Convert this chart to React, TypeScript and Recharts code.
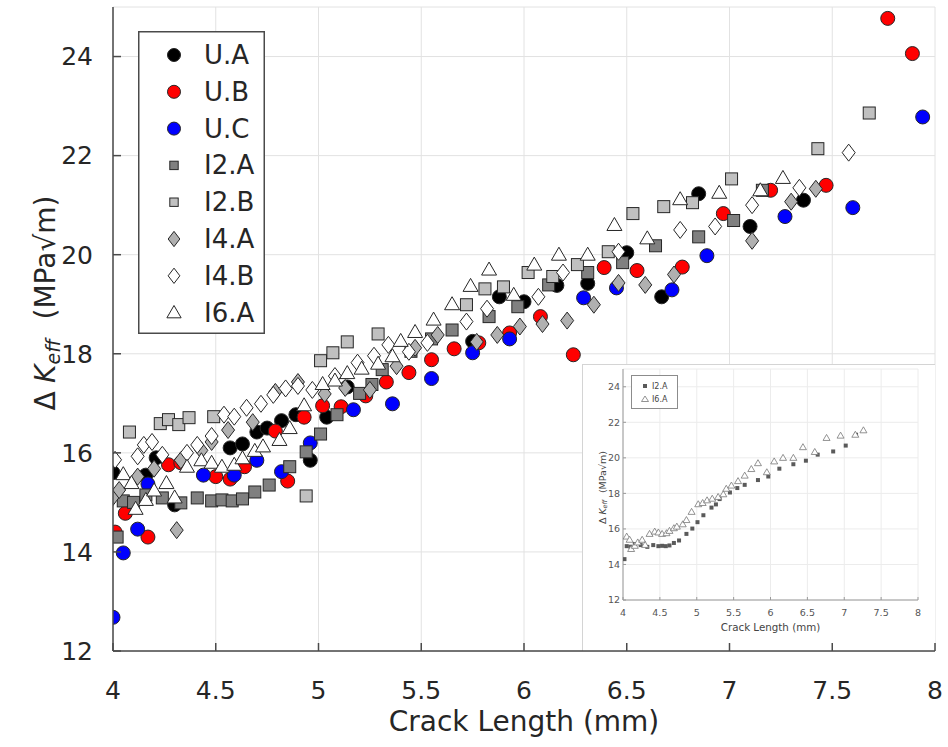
import React from "react";
import { ScatterChart, Scatter, XAxis, YAxis, CartesianGrid, Legend } from "recharts";

const X_TICKS = [4, 4.5, 5, 5.5, 6, 6.5, 7, 7.5, 8];
const Y_TICKS = [12, 14, 16, 18, 20, 22, 24];

// [crack length (mm), delta K eff (MPa sqrt m)]
const UA = [
  [4.0, 15.6], [4.16, 15.55], [4.21, 15.9], [4.3, 14.95], [4.57, 16.1], [4.63, 16.18],
  [4.7, 16.42], [4.75, 16.5], [4.82, 16.65], [4.89, 16.77], [4.96, 15.85], [5.04, 16.72],
  [5.14, 17.33], [5.75, 18.25], [5.88, 19.15], [6.0, 19.05], [6.16, 19.38], [6.31, 19.42],
  [6.5, 20.04], [6.67, 19.15], [6.85, 21.23], [7.1, 20.57], [7.36, 21.1],
];
const UB = [
  [4.01, 14.4], [4.06, 14.78], [4.17, 14.3], [4.27, 15.76], [4.33, 15.8], [4.5, 15.52],
  [4.57, 15.47], [4.64, 15.72], [4.79, 16.44], [4.85, 15.43], [4.93, 16.72], [5.02, 16.95],
  [5.11, 16.93], [5.23, 17.15], [5.33, 17.43], [5.44, 17.62], [5.55, 17.88], [5.66, 18.1],
  [5.78, 18.22], [5.93, 18.42], [6.08, 18.75], [6.24, 17.98], [6.39, 19.74], [6.55, 19.68],
  [6.77, 19.75], [6.97, 20.83], [7.2, 21.3], [7.47, 21.4], [7.77, 24.77], [7.89, 24.06],
];
const UC = [
  [4.0, 12.68], [4.05, 13.98], [4.12, 14.46], [4.17, 15.37], [4.44, 15.55], [4.59, 15.55],
  [4.7, 15.85], [4.82, 15.62], [4.96, 16.2], [5.17, 16.87], [5.36, 16.99], [5.55, 17.5],
  [5.75, 18.02], [5.93, 18.3], [6.29, 19.13], [6.45, 19.33], [6.72, 19.29], [6.89, 19.98],
  [7.27, 20.77], [7.6, 20.95], [7.94, 22.78],
];
const I2A = [
  [4.02, 14.3], [4.05, 15.03], [4.1, 15.0], [4.16, 15.15], [4.24, 15.09], [4.33, 14.99],
  [4.41, 15.09], [4.48, 15.03], [4.53, 15.05], [4.58, 15.03], [4.63, 15.07], [4.69, 15.21],
  [4.76, 15.35], [4.86, 15.72], [4.94, 16.02], [5.01, 16.38], [5.09, 16.77], [5.2, 17.2],
  [5.26, 17.38], [5.31, 17.68], [5.45, 18.05], [5.55, 18.3], [5.65, 18.48], [5.83, 18.75],
  [5.97, 18.95], [6.12, 19.39], [6.31, 19.64], [6.48, 19.84], [6.64, 20.18], [6.85, 20.36],
  [7.02, 20.69], [7.16, 21.3],
];
const I2B = [
  [4.08, 16.42], [4.23, 16.59], [4.27, 16.67], [4.32, 16.57], [4.37, 16.71], [4.49, 16.73],
  [4.94, 15.13], [5.01, 17.86], [5.07, 18.02], [5.14, 18.24], [5.29, 18.4], [5.72, 18.99],
  [5.81, 19.31], [5.9, 19.35], [6.02, 19.64], [6.14, 19.56], [6.26, 19.8], [6.41, 20.06],
  [6.53, 20.83], [6.68, 20.97], [6.82, 21.05], [7.01, 21.53], [7.43, 22.14], [7.68, 22.86],
];
const I4A = [
  [4.0, 15.11], [4.03, 15.25], [4.12, 15.52], [4.2, 15.68], [4.31, 14.44], [4.33, 15.85],
  [4.43, 16.05], [4.48, 16.22], [4.56, 16.46], [4.68, 16.62], [4.79, 17.23], [4.9, 17.43],
  [5.03, 17.19], [5.13, 17.31], [5.25, 17.27], [5.38, 17.75], [5.47, 18.12], [5.58, 18.38],
  [5.77, 18.24], [5.87, 18.38], [5.98, 18.55], [6.09, 18.6], [6.21, 18.67], [6.34, 18.99],
  [6.46, 19.43], [6.59, 19.39], [6.73, 19.6], [7.11, 20.28], [7.3, 21.07], [7.42, 21.33],
];
const I4B = [
  [4.01, 15.86], [4.12, 15.93], [4.15, 16.16], [4.19, 16.22], [4.24, 15.96], [4.36, 16.0],
  [4.41, 16.16], [4.48, 16.34], [4.54, 16.77], [4.59, 16.73], [4.65, 16.91], [4.72, 16.99],
  [4.78, 17.17], [4.84, 17.3], [4.9, 17.35], [4.97, 17.27], [5.08, 17.55], [5.19, 17.82],
  [5.27, 17.96], [5.34, 18.18], [5.44, 18.04], [5.53, 18.22], [5.72, 18.65], [5.82, 18.91],
  [6.07, 19.15], [6.19, 19.64], [6.46, 20.06], [6.76, 20.5], [6.93, 20.57], [7.11, 21.0],
  [7.34, 21.35], [7.58, 22.06],
];
const I6A = [
  [4.05, 15.57], [4.09, 15.39], [4.11, 14.87], [4.16, 15.05], [4.2, 15.24], [4.26, 15.39],
  [4.3, 15.1], [4.36, 15.72], [4.43, 15.85], [4.48, 15.8], [4.53, 15.72], [4.59, 15.76],
  [4.63, 15.89], [4.69, 16.04], [4.73, 16.13], [4.81, 16.26], [4.86, 16.5], [4.93, 16.96],
  [5.02, 17.39], [5.08, 17.46], [5.14, 17.61], [5.21, 17.7], [5.29, 17.8], [5.36, 17.95],
  [5.4, 18.26], [5.47, 18.44], [5.56, 18.69], [5.65, 19.0], [5.74, 19.37], [5.83, 19.7],
  [5.95, 19.19], [6.05, 19.8], [6.17, 20.0], [6.31, 20.0], [6.44, 20.6], [6.6, 20.33],
  [6.76, 21.12], [6.95, 21.25], [7.15, 21.3], [7.26, 21.55],
];

const FONT = "'DejaVu Sans', 'Liberation Sans', Arial, sans-serif";
const AXIS = "#4a4a4a";
const TXT = "#262626";

const pts = (arr: number[][]) => arr.map(([x, y]) => ({ x, y }));
const blank = () => "";

function Marker({ kind, cx, cy, fill, s = 1, stroke = "#262626", sw = 1 }: any) {
  if (kind === "circle")
    return <circle cx={cx} cy={cy} r={7 * s} fill={fill} stroke={stroke} strokeWidth={sw} />;
  if (kind === "square")
    return <rect x={cx - 6 * s} y={cy - 6 * s} width={12 * s} height={12 * s} fill={fill} stroke={stroke} strokeWidth={sw} />;
  if (kind === "diamond")
    return (
      <polygon
        points={`${cx},${cy - 8.5 * s} ${cx + 6.5 * s},${cy} ${cx},${cy + 8.5 * s} ${cx - 6.5 * s},${cy}`}
        fill={fill} stroke={stroke} strokeWidth={sw}
      />
    );
  return (
    <polygon
      points={`${cx},${cy - 7.5 * s} ${cx + 7.5 * s},${cy + 5.5 * s} ${cx - 7.5 * s},${cy + 5.5 * s}`}
      fill={fill} stroke={stroke} strokeWidth={sw}
    />
  );
}

const SERIES = [
  { name: "U.A", data: UA, kind: "circle", fill: "#000000", ls: 0.93 },
  { name: "U.B", data: UB, kind: "circle", fill: "#ff0000", ls: 0.93 },
  { name: "U.C", data: UC, kind: "circle", fill: "#0000ff", ls: 0.93 },
  { name: "I2.A", data: I2A, kind: "square", fill: "#808080", ls: 0.7 },
  { name: "I2.B", data: I2B, kind: "square", fill: "#c0c0c0", ls: 0.7 },
  { name: "I4.A", data: I4A, kind: "diamond", fill: "#b0b0b0", ls: 0.9 },
  { name: "I4.B", data: I4B, kind: "diamond", fill: "#ffffff", ls: 0.9 },
  { name: "I6.A", data: I6A, kind: "triangle", fill: "#ffffff", ls: 0.95 },
];

function MainLegend() {
  return (
    <svg width={127} height={303} style={{ display: "block" }}>
      <rect x={0.75} y={0.75} width={125.5} height={301.5} fill="#ffffff" stroke={AXIS} strokeWidth={1.5} />
      {SERIES.map((s, i) => {
        const cy = 24 + i * 36.8;
        return (
          <g key={s.name}>
            <Marker kind={s.kind} cx={36} cy={cy} fill={s.fill} s={s.ls} />
            <text x={66} y={cy} dominantBaseline="central" fontSize={26} fontFamily={FONT} fill={TXT}>
              {s.name}
            </text>
          </g>
        );
      })}
    </svg>
  );
}

function InsetLegend() {
  return (
    <svg width={47} height={34} style={{ display: "block" }}>
      <rect x={0.5} y={0.5} width={46} height={33} fill="#ffffff" stroke="#8c8c8c" strokeWidth={1} />
      <rect x={12} y={9} width={4} height={4} fill="#5a5a5a" />
      <text x={21} y={11.5} dominantBaseline="central" fontSize={8} fontFamily={FONT} fill="#444">I2.A</text>
      <polygon points="14,21 17.5,26.5 10.5,26.5" fill="#fff" stroke="#777" strokeWidth={0.8} />
      <text x={21} y={24.5} dominantBaseline="central" fontSize={8} fontFamily={FONT} fill="#444">I6.A</text>
    </svg>
  );
}

function YLabel({ viewBox, dx, dy, size, color }: any) {
  const cx = viewBox.x + dx;
  const cy = viewBox.y + viewBox.height / 2 + dy;
  return (
    <text
      x={cx} y={cy} transform={`rotate(-90, ${cx}, ${cy})`} textAnchor="middle"
      dominantBaseline="central" fontSize={size} fontFamily={FONT} fill={color}
    >
      <tspan>Δ</tspan>
      <tspan dx={size * 0.3} fontStyle="italic">K</tspan>
      <tspan fontSize={size * 0.68} dy={size * 0.3} fontStyle="italic">eff</tspan>
      <tspan dx={size * 0.7} dy={-size * 0.3}>(MPa√m)</tspan>
    </text>
  );
}

function XLabel({ viewBox, dy, size, color }: any) {
  return (
    <text
      x={viewBox.x + viewBox.width / 2} y={viewBox.y + dy} textAnchor="middle"
      fontSize={size} fontFamily={FONT} fill={color}
    >
      Crack Length (mm)
    </text>
  );
}

const MAIN_MARGIN = { top: 7, right: 13, bottom: 36, left: 0 };

function MainChart() {
  return (
    <ScatterChart width={948} height={747} margin={MAIN_MARGIN}>
      <CartesianGrid stroke="#e2e2e2" strokeWidth={1} />
      <XAxis
        type="number" dataKey="x" domain={[4, 8]} ticks={X_TICKS} allowDataOverflow height={60}
        axisLine={false} tickLine={false} tickMargin={24}
        tick={{ fontSize: 25, fill: TXT, fontFamily: FONT }}
        label={{ content: (p: any) => <XLabel {...p} dy={80} size={28} color={TXT} /> }}
      />
      <YAxis
        type="number" dataKey="y" domain={[12, 25]} ticks={Y_TICKS} allowDataOverflow width={113}
        axisLine={false} tickLine={false} tickMargin={14}
        tick={{ fontSize: 25, fill: TXT, fontFamily: FONT }}
        label={{ content: (p: any) => <YLabel {...p} dx={45} dy={-26} size={28} color={TXT} /> }}
      />
      {SERIES.map((s) => (
        <Scatter
          key={s.name} name={s.name} data={pts(s.data)} isAnimationActive={false}
          shape={(p: any) => <Marker kind={s.kind} cx={p.cx} cy={p.cy} fill={s.fill} />}
        />
      ))}
      <Legend
        layout="vertical" align="center" verticalAlign="middle"
        wrapperStyle={{ left: 138, top: 31, width: 127, height: 303 }}
        content={() => <MainLegend />}
      />
    </ScatterChart>
  );
}

// frame and inward ticks drawn above the inset, like the original axes box
function MainFrame() {
  const line = { stroke: AXIS, strokeWidth: 1.5 };
  return (
    <ScatterChart width={948} height={747} margin={MAIN_MARGIN}>
      <XAxis type="number" dataKey="x" domain={[4, 8]} ticks={X_TICKS} allowDataOverflow height={60}
        axisLine={line} tickLine={line} tickSize={-8} tickFormatter={blank} />
      <YAxis type="number" dataKey="y" domain={[12, 25]} ticks={Y_TICKS} allowDataOverflow width={113}
        axisLine={line} tickLine={line} tickSize={-8} tickFormatter={blank} />
      <XAxis xAxisId="top" orientation="top" type="number" domain={[4, 8]} ticks={X_TICKS} allowDataOverflow
        height={0} axisLine={line} tickLine={line} tickSize={-8} tickFormatter={blank} />
      <YAxis yAxisId="right" orientation="right" type="number" domain={[12, 25]} ticks={Y_TICKS} allowDataOverflow
        width={0} axisLine={line} tickLine={line} tickSize={-8} tickFormatter={blank} />
      <Scatter data={[]} isAnimationActive={false} />
    </ScatterChart>
  );
}

function InsetChart() {
  const line = { stroke: "#9a9a9a", strokeWidth: 1 };
  const tick = { fontSize: 9.5, fill: "#555", fontFamily: FONT };
  return (
    <ScatterChart width={352} height={286} margin={{ top: 4, right: 17, bottom: 0, left: 0 }}>
      <CartesianGrid stroke="#ececec" strokeWidth={1} />
      <XAxis type="number" dataKey="x" domain={[4, 8]} ticks={X_TICKS} allowDataOverflow height={51}
        axisLine={line} tickLine={line} tickSize={-3} tickMargin={12} tick={tick}
        label={{ content: (p: any) => <XLabel {...p} dy={31} size={10.3} color="#444" /> }} />
      <YAxis type="number" dataKey="y" domain={[12, 25]} ticks={Y_TICKS} allowDataOverflow width={40}
        axisLine={line} tickLine={line} tickSize={-3} tickMargin={6} tick={tick}
        label={{ content: (p: any) => <YLabel {...p} dx={19} dy={3} size={9.5} color="#444" /> }} />
      <XAxis xAxisId="top" orientation="top" type="number" domain={[4, 8]} ticks={X_TICKS} allowDataOverflow
        height={0} axisLine={line} tickLine={line} tickSize={-3} tickFormatter={blank} />
      <YAxis yAxisId="right" orientation="right" type="number" domain={[12, 25]} ticks={Y_TICKS} allowDataOverflow
        width={0} axisLine={line} tickLine={line} tickSize={-3} tickFormatter={blank} />
      <Scatter name="I2.A" data={pts(I2A)} isAnimationActive={false}
        shape={(p: any) => <rect x={p.cx - 2} y={p.cy - 2} width={4} height={4} fill="#5a5a5a" />} />
      <Scatter name="I6.A" data={pts(I6A)} isAnimationActive={false}
        shape={(p: any) => (
          <polygon points={`${p.cx},${p.cy - 3.5} ${p.cx + 3.5},${p.cy + 2.5} ${p.cx - 3.5},${p.cy + 2.5}`}
            fill="#fff" stroke="#777" strokeWidth={0.8} />
        )} />
      <Legend layout="vertical" align="center" verticalAlign="middle"
        wrapperStyle={{ left: 48, top: 10, width: 47, height: 34 }} content={() => <InsetLegend />} />
    </ScatterChart>
  );
}

export default function App() {
  return (
    <div style={{ position: "absolute", left: 0, top: 0, width: 948, height: 747, background: "#fff" }}>
      <div style={{ position: "absolute", left: 0, top: 0 }}>
        <MainChart />
      </div>
      <div style={{ position: "absolute", left: 582, top: 364, borderLeft: "1px solid #d4d4d4", borderTop: "1px solid #d4d4d4", background: "#fff" }}>
        <InsetChart />
      </div>
      <div style={{ position: "absolute", left: 0, top: 0, pointerEvents: "none" }}>
        <MainFrame />
      </div>
    </div>
  );
}
